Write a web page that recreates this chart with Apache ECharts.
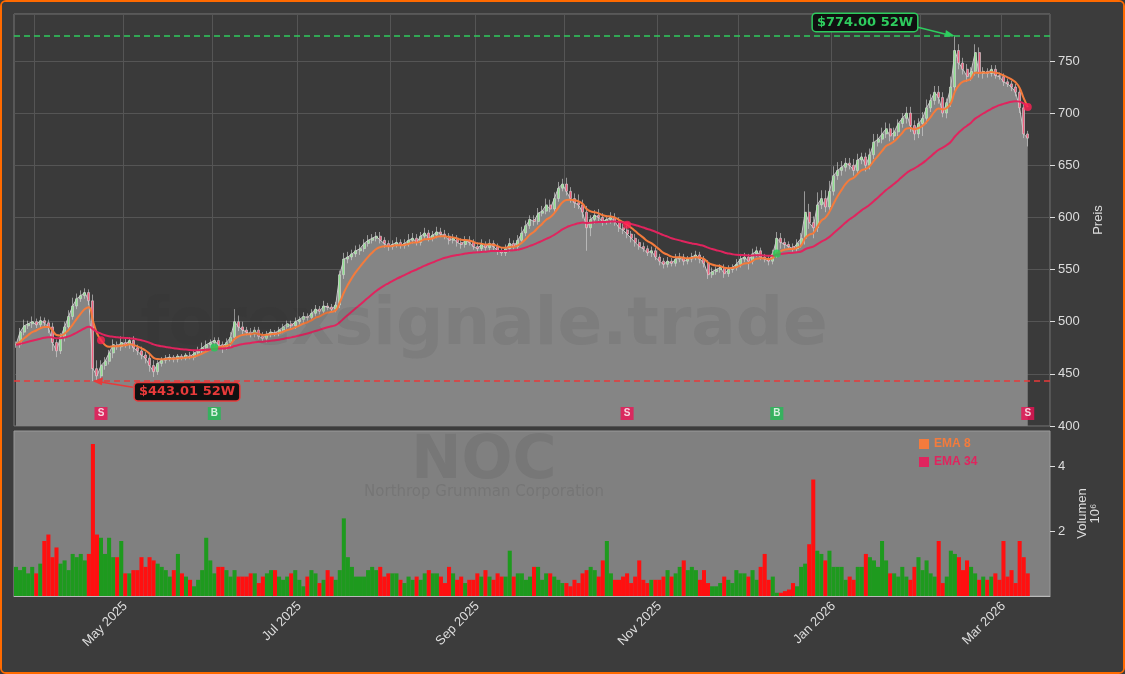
<!DOCTYPE html>
<html><head><meta charset="utf-8">
<script src="https://cdn.jsdelivr.net/npm/echarts@6/dist/echarts.min.js"></script>
<style>html,body{margin:0;background:#3c3c3c}#c{width:1121px;height:670px;border:2px solid #ff6a00;border-radius:6px;overflow:hidden}</style>
</head><body><div id="c"></div>
<script>
const closes = [
478,490,496,498,500,497,501,499,495,480,
472,485,495,505,515,522,525,528,520,455,
448,458,462,470,478,476,480,478,482,475,
472,468,465,458,452,460,463,465,466,464,
467,465,468,466,470,472,475,478,480,482,
478,476,480,485,500,495,492,490,488,492,
486,484,488,490,489,492,495,498,496,500,
502,505,504,508,512,510,515,514,512,516,
545,560,562,565,568,570,575,578,580,582,
578,575,572,574,576,573,575,578,580,576,
582,585,580,583,586,584,582,578,580,576,
574,578,576,572,570,574,571,575,572,568,
566,570,575,572,578,585,592,598,596,604,
606,612,608,618,628,632,625,618,614,612,
605,590,598,602,600,596,598,600,596,590,
588,584,580,576,572,570,566,568,562,558,
555,558,556,560,562,558,560,562,564,560,
556,545,548,550,552,546,550,552,555,560,
562,558,565,568,562,560,558,565,580,576,
574,572,570,575,580,605,595,590,612,618,
610,625,640,645,648,652,650,645,655,658,
650,660,672,675,680,685,678,682,690,695,
700,688,680,690,695,705,712,720,715,700,
710,725,760,748,742,735,740,758,738,740,
738,742,736,735,730,728,725,720,705,680,
676];
const volumes = [
0.9,0.8,0.9,0.7,0.9,0.7,1.0,1.7,1.9,1.2,
1.5,1.0,1.1,0.8,1.3,1.2,1.3,1.1,1.3,4.7,
1.9,1.8,1.3,1.8,1.2,1.2,1.7,0.7,0.7,0.8,
0.8,1.2,0.9,1.2,1.1,1.0,0.9,0.8,0.6,0.8,
1.3,0.7,0.6,0.5,0.3,0.5,0.8,1.8,1.1,0.7,
0.9,0.9,0.8,0.6,0.8,0.6,0.6,0.6,0.7,0.7,
0.4,0.6,0.7,0.8,0.8,0.6,0.5,0.6,0.7,0.8,
0.5,0.3,0.6,0.8,0.7,0.4,0.5,0.8,0.6,0.5,
0.8,2.4,1.2,0.9,0.6,0.6,0.6,0.8,0.9,0.8,
0.9,0.6,0.7,0.7,0.7,0.5,0.4,0.6,0.5,0.6,
0.5,0.7,0.8,0.7,0.7,0.6,0.4,0.9,0.7,0.5,
0.6,0.4,0.5,0.5,0.7,0.6,0.8,0.6,0.5,0.7,
0.6,0.6,1.4,0.6,0.7,0.7,0.5,0.6,0.9,0.9,
0.5,0.7,0.7,0.6,0.5,0.4,0.4,0.3,0.5,0.4,
0.7,0.8,0.9,0.8,0.6,1.1,1.7,0.7,0.5,0.5,
0.6,0.7,0.4,0.6,1.1,0.5,0.4,0.5,0.5,0.5,
0.6,0.8,0.6,0.7,0.9,1.1,0.8,0.9,0.8,0.5,
0.8,0.4,0.3,0.3,0.4,0.6,0.5,0.4,0.8,0.7,
0.7,0.6,0.8,0.5,0.9,1.3,0.5,0.6,0.1,0.1,
0.15,0.2,0.4,0.3,0.9,1.0,1.6,3.6,1.4,1.3,
1.1,1.4,0.9,0.9,0.9,0.5,0.6,0.5,0.9,0.9,
1.3,1.2,1.1,0.9,1.7,1.1,0.7,0.7,0.6,0.9,
0.6,0.5,0.9,1.2,0.8,1.1,0.7,0.6,1.7,0.4,
0.6,1.4,1.3,1.2,0.8,1.1,0.9,0.7,0.5,0.6,
0.5,0.6,0.7,0.5,1.7,0.6,0.8,0.4,1.7,1.2,
0.7];
const wickUp = [
3,4,6,3,5,3,4,3,3,4, 3,4,5,6,8,5,5,4,3,6, 8,5,4,3,5,3,6,4,3,4,
3,4,3,4,5,3,3,3,3,2, 2,2,2,3,3,4,5,4,3,3, 3,3,4,5,12,6,5,3,4,3,
3,4,3,3,2,3,3,3,3,4, 3,4,3,4,4,3,5,3,3,3, 4,6,5,4,5,4,4,5,4,4,
4,3,3,4,5,3,4,6,5,4, 4,5,3,4,5,4,4,3,4,3, 4,4,4,3,4,5,3,4,3,3,
3,4,5,3,5,6,5,4,4,5, 5,6,5,6,6,5,6,4,5,8, 5,6,4,5,6,4,4,5,4,4,
4,4,3,4,3,4,3,4,3,3, 3,4,3,5,4,3,3,4,4,3, 3,3,4,3,3,3,4,3,5,5,
4,3,5,4,3,3,3,4,6,5, 4,3,3,4,5,20,8,6,12,8, 8,10,9,8,6,5,5,6,6,4,
4,6,8,5,6,6,5,4,4,5, 6,6,5,5,6,8,6,6,6,5, 4,10,14,6,5,5,4,8,5,4,
3,4,4,3,3,3,3,3,3,4, 3];
const wickDn = [
3,3,3,3,4,3,3,3,6,8, 6,3,4,4,3,3,3,3,4,12, 6,4,4,3,5,3,4,3,4,4,
4,4,5,6,5,3,3,3,3,3, 3,2,2,2,3,3,3,3,3,3, 4,6,3,4,3,4,4,3,3,3,
3,3,4,3,3,3,3,3,3,3, 3,3,3,3,3,3,3,3,3,3, 3,4,4,3,3,4,3,3,3,3,
3,4,4,3,3,3,3,3,3,3, 3,3,3,3,3,3,3,4,3,4, 4,3,3,3,4,3,3,3,4,4,
3,3,3,4,4,3,3,3,4,3, 3,3,3,3,3,3,4,4,5,4, 6,22,8,4,5,4,3,4,4,4,
4,4,4,4,3,3,3,4,3,4, 4,3,3,3,3,4,3,3,3,4, 4,4,3,3,3,4,3,3,3,3,
3,8,3,3,3,3,4,3,4,6, 4,3,3,3,4,6,6,10,4,4, 5,4,4,4,5,4,4,5,4,4,
6,4,4,4,4,4,5,4,4,4, 5,6,6,4,12,5,4,4,6,4, 5,4,4,6,5,5,4,4,4,5,
4,3,3,3,4,3,4,4,5,4, 8];
const signalIdx = [21, 49, 151, 188, 250];
const signalType = ['S','B','S','B','S'];
const high52 = 774.00, low52 = 443.01;
const high52Idx = 232, low52Idx = 19;
const monthNames = ['Jan','Feb','Mar','Apr','May','Jun','Jul','Aug','Sep','Oct','Nov','Dec'];

const dates = [];
let d = new Date(Date.UTC(2025,2,25));
const total = closes.length + 5;
while (dates.length < total) {
  const wd = d.getUTCDay();
  if (wd !== 0 && wd !== 6) dates.push(new Date(d.getTime()));
  d.setUTCDate(d.getUTCDate()+1);
}
const cats = dates.map(x => x.toISOString().slice(0,10));
const monthStart = cats.map((c,i) => i>0 && dates[i].getUTCMonth() !== dates[i-1].getUTCMonth());
const labelShow = cats.map((c,i) => monthStart[i] && dates[i].getUTCMonth()%2===0);

const opens = closes.map((c,i) => i===0 ? c : closes[i-1]);
const candle = closes.map((c,i) => [opens[i], c, Math.min(opens[i],c)-(wickDn[i]||3), Math.max(opens[i],c)+(wickUp[i]||3)]);
candle[low52Idx][2] = low52; candle[high52Idx][3] = high52;
function ema(arr,n){const k=2/(n+1);const out=[];let e=arr[0];arr.forEach((v,i)=>{e=i===0?v:v*k+e*(1-k);out.push(+e.toFixed(2));});return out;}
const ema8 = ema(closes,8), ema34 = ema(closes,34);
const volData = volumes.map((v,i)=>({value:v,itemStyle:{color: closes[i]>=opens[i] ? '#1e9a1e' : '#ff1010'}}));
const sigLabels = signalIdx.map((ix,j)=>({value:[ix,412],label:{formatter:signalType[j]},itemStyle:{color:signalType[j]==='S'?'#ee1155':'#22bb55'}}));
const sigDots = signalIdx.map((ix,j)=>({value:[ix,ema8[ix]],itemStyle:{color:signalType[j]==='S'?'#ff2255':'#22cc55'}}));

const chart = echarts.init(document.getElementById('c'));
const axisTxt = '#dddddd';
chart.setOption({
  backgroundColor:'#3c3c3c',
  animation:false,
  legend:{data:[{name:'EMA 8',itemStyle:{color:'#f47b3c'}},{name:'EMA 34',itemStyle:{color:'#e0245e'}}],
    orient:'vertical',left:912,top:431,icon:'rect',itemWidth:10,itemHeight:10,itemGap:6,
    textStyle:{fontWeight:'bold',fontSize:12,color:'inherit'}},
  grid:[{left:12,right:73,top:12,height:412,backgroundColor:'#3a3a3a',show:true,borderColor:'#777'},
        {left:12,right:73,top:429,height:165,backgroundColor:'#808080',show:true,borderColor:'#999'}],
  xAxis:[
    {type:'category',data:cats,gridIndex:0,boundaryGap:true,axisLabel:{show:false},axisTick:{show:false},axisLine:{show:false},
     splitLine:{show:true,interval:(i)=>monthStart[i],lineStyle:{color:'#555'}}},
    {type:'category',data:cats,gridIndex:1,boundaryGap:true,
     axisLine:{lineStyle:{color:'#bbb'}},
     axisTick:{interval:(i)=>monthStart[i],lineStyle:{color:'#ddd'},length:5},
     axisLabel:{interval:(i)=>labelShow[i],rotate:45,color:axisTxt,fontSize:13,
       formatter:(v)=>{const dd=new Date(v);return monthNames[dd.getUTCMonth()]+' '+dd.getUTCFullYear();}},
     splitLine:{show:false}}
  ],
  yAxis:[
    {type:'value',gridIndex:0,position:'right',min:400,max:795,interval:50,
     name:'Preis',nameLocation:'middle',nameRotate:90,nameGap:42,nameTextStyle:{color:axisTxt,fontSize:13},
     axisLabel:{color:axisTxt,fontSize:13,showMaxLabel:false},axisTick:{show:true,lineStyle:{color:'#ddd'}},axisLine:{show:false},
     splitLine:{lineStyle:{color:'#555'}}},
    {type:'value',gridIndex:1,position:'right',min:0,max:5.1,interval:2,
     name:'Volumen\n10⁶',nameLocation:'middle',nameRotate:90,nameGap:22,nameTextStyle:{color:axisTxt,fontSize:13},
     axisLabel:{color:axisTxt,fontSize:13,showMinLabel:false,showMaxLabel:false},axisTick:{show:true,lineStyle:{color:'#ddd'}},axisLine:{show:false},
     splitLine:{show:false}}
  ],
  series:[
    {type:'line',data:closes,xAxisIndex:0,yAxisIndex:0,symbol:'none',
     lineStyle:{color:'#c8c8c8',width:1},areaStyle:{color:'#858585',origin:'start',opacity:1},z:1,
     markLine:{symbol:'none',silent:true,label:{show:false},
       data:[{yAxis:high52,lineStyle:{color:'#2ecc5e',type:[6,4],width:1.5}},{yAxis:low52,lineStyle:{color:'#e83a3a',type:[6,4],width:1.5}}]}},
    {type:'candlestick',data:candle,xAxisIndex:0,yAxisIndex:0,barWidth:2.5,z:3,
     itemStyle:{color:'#8ee08e',color0:'#f0607f',borderColor:'#d8d8d8',borderColor0:'#d8d8d8',borderWidth:0.6}},
    {name:'EMA 8',type:'line',data:ema8,symbol:'none',smooth:true,lineStyle:{color:'#f47b3c',width:2},z:4},
    {name:'EMA 34',type:'line',data:ema34,symbol:'none',smooth:true,lineStyle:{color:'#e0245e',width:2},z:4},
    {type:'scatter',data:sigDots,symbolSize:8,z:5},
    {type:'scatter',data:sigLabels,symbol:'rect',symbolSize:13,z:5,
     label:{show:true,position:'inside',color:'#fff',fontWeight:'bold',fontSize:10}},
    {type:'bar',data:volData,xAxisIndex:1,yAxisIndex:1,barCategoryGap:'0%'}
  ]
});
const hp = chart.convertToPixel({xAxisIndex:0,yAxisIndex:0},[high52Idx,high52]);
const lp = chart.convertToPixel({xAxisIndex:0,yAxisIndex:0},[low52Idx,low52]);
chart.setOption({graphic:[
  {type:'text',x:482,y:292,z:100,silent:true,style:{text:'forexsignale.trade',align:'center',font:'bold 66px "DejaVu Sans"',fill:'rgba(40,40,40,0.09)'}},
  {type:'text',x:482,y:430,z:100,silent:true,style:{text:'NOC',align:'center',font:'bold 60px "DejaVu Sans"',fill:'rgba(40,40,40,0.1)'}},
  {type:'text',x:482,y:483,z:100,silent:true,style:{text:'Northrop Grumman Corporation',align:'center',font:'15px "DejaVu Sans"',fill:'rgba(40,40,40,0.12)'}},
  {type:'line',shape:{x1:hp[0]-42,y1:hp[1]-10,x2:hp[0]-2,y2:hp[1]},style:{stroke:'#2ecc5e',lineWidth:1.5},z:110},
  {type:'polygon',shape:{points:[[hp[0],hp[1]],[hp[0]-9,hp[1]-6],[hp[0]-10,hp[1]+1]]},style:{fill:'#2ecc5e'},z:110},
  {type:'text',x:hp[0]-142,y:hp[1]-22,z:111,style:{text:'$774.00 52W',font:'bold 13px "DejaVu Sans"',fill:'#2ecc5e',backgroundColor:'#111',borderColor:'#2ecc5e',borderWidth:1.5,borderRadius:3,padding:[2,4]}},
  {type:'line',shape:{x1:lp[0]+40,y1:lp[1]+6,x2:lp[0]+3,y2:lp[1]},style:{stroke:'#e83a3a',lineWidth:1.5},z:110},
  {type:'polygon',shape:{points:[[lp[0],lp[1]],[lp[0]+10,lp[1]-4],[lp[0]+9,lp[1]+4]]},style:{fill:'#e83a3a'},z:110},
  {type:'text',x:lp[0]+42,y:lp[1]+2,z:111,style:{text:'$443.01 52W',font:'bold 13px "DejaVu Sans"',fill:'#e83a3a',backgroundColor:'#111',borderColor:'#e83a3a',borderWidth:1.5,borderRadius:3,padding:[2,4]}}
]});
</script></body></html>
